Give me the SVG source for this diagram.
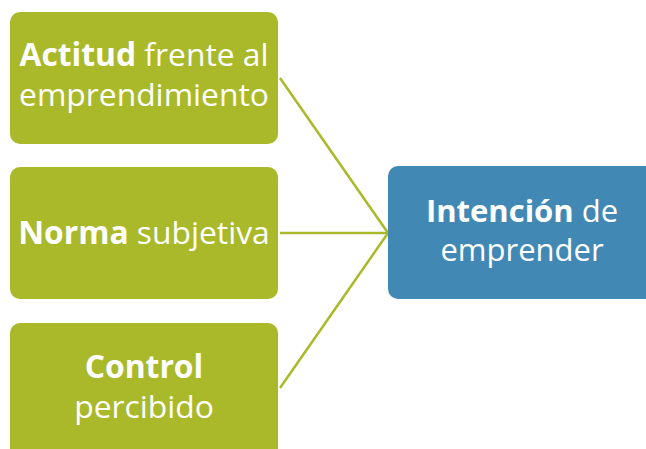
<svg xmlns="http://www.w3.org/2000/svg" width="646" height="449" viewBox="0 0 646 449">
<style>
.g{fill:#A9B929}
.b{fill:#4189B4}
text{font-family:"Open Sans","Liberation Sans",sans-serif;font-size:31.8px;fill:#FFFFFF;text-anchor:middle}
.bd{font-weight:bold}
.c{stroke:#A9B929;stroke-width:2.5;fill:none}
</style>
<rect width="646" height="449" fill="#FFFFFF"/>
<g id="connectors">
<line class="c" x1="280" y1="78" x2="388" y2="233"/>
<line class="c" x1="280" y1="233" x2="388" y2="233"/>
<line class="c" x1="280" y1="388" x2="388" y2="233"/>
</g>
<g id="actitud">
<rect class="g" x="10" y="12" width="268" height="132" rx="10"/>
<text x="144" y="66"><tspan class="bd">Actitud</tspan> frente al</text>
<text x="144" y="106">emprendimiento</text>
</g>
<g id="norma">
<rect class="g" x="10" y="167" width="268" height="132" rx="10"/>
<text x="144" y="244"><tspan class="bd">Norma</tspan> subjetiva</text>
</g>
<g id="control">
<rect class="g" x="10" y="323" width="268" height="140" rx="10"/>
<text x="144" y="378" class="bd">Control</text>
<text x="144" y="418">percibido</text>
</g>
<g id="intencion">
<rect class="b" x="388" y="166" width="280" height="133" rx="10"/>
<text x="522" y="222" style="font-size:31px"><tspan class="bd">Intención</tspan> de</text>
<text x="522" y="261" style="font-size:31px">emprender</text>
</g>
</svg>
